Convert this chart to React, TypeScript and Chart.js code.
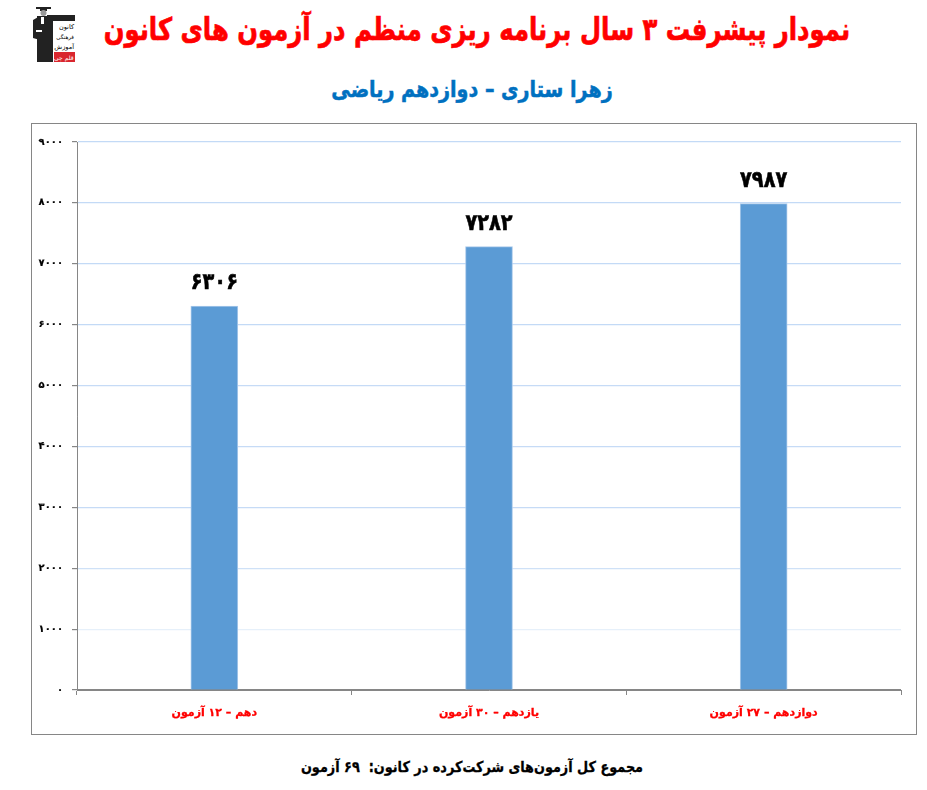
import { useEffect, useRef } from 'react';
import { Chart, registerables } from 'chart.js';

Chart.register(...registerables);

const PERSIAN_FONT = '"DejaVu Sans", sans-serif';

const pageTitle = 'نمودار پیشرفت ۳ سال برنامه ریزی منظم در آزمون های کانون';
const studentLine = 'زهرا ستاری – دوازدهم ریاضی';
const footerLine = 'مجموع کل آزمون‌های شرکت‌کرده در کانون:  ۶۹ آزمون';

const categories = ['دهم – ۱۲ آزمون', 'یازدهم – ۳۰ آزمون', 'دوازدهم – ۲۷ آزمون'];
const scores = [6306, 7282, 7987];
const gridColors = ['#868686', '#e6f0fa', '#cfe1f7', '#c6dbf6', '#c6dbf6', '#c6dbf6', '#c3daf6', '#c3daf6', '#c3daf6', '#c3daf6'];

const toPersian = (n: number | string) =>
    String(n).replace(/\d/g, (d) => '۰۱۲۳۴۵۶۷۸۹'[Number(d)]);

// draws the number above each bar
const valueLabels = {
    id: 'valueLabels',
    afterDatasetsDraw(chart: Chart) {
        const { ctx } = chart;
        const bars = chart.getDatasetMeta(0).data;
        ctx.save();
        ctx.fillStyle = '#000';
        ctx.strokeStyle = '#000';
        ctx.lineWidth = 0.6;
        ctx.textAlign = 'center';
        ctx.textBaseline = 'alphabetic';
        ctx.font = `bold 23px ${PERSIAN_FONT}`;
        bars.forEach((bar, i) => {
            ctx.save();
            ctx.translate(bar.x, bar.y - 17);
            ctx.scale(0.84, 1);
            ctx.fillText(toPersian(scores[i]), 0, 0);
            ctx.strokeText(toPersian(scores[i]), 0, 0);
            ctx.restore();
        });
        ctx.restore();
    },
};

const Logo = () => (
    <svg width="44" height="56" viewBox="0 0 44 56" style={{ position: 'absolute', left: 32, top: 6 }}>
        <rect x="4" y="1" width="15" height="2" fill="#222" />
        <rect x="8" y="3" width="7" height="2" fill="#222" />
        <circle cx="11.5" cy="7" r="3" fill="#999" />
        <polygon points="1,14 8,10 8,34 1,32" fill="#222" />
        <rect x="5" y="10" width="16" height="46" fill="#222" />
        <rect x="15" y="9" width="28" height="6" fill="#222" />
        <rect x="9" y="11" width="3" height="7" fill="#fff" />
        <rect x="4" y="24" width="6" height="2" fill="#fff" />
        <text x="42" y="23" textAnchor="end" fontSize="6.5" fontFamily={PERSIAN_FONT}>کانون</text>
        <text x="42" y="33" textAnchor="end" fontSize="5.5" fontFamily={PERSIAN_FONT}>فرهنگی</text>
        <text x="42" y="43" textAnchor="end" fontSize="6.5" fontFamily={PERSIAN_FONT}>آموزش</text>
        <rect x="22" y="46" width="21" height="10" fill="#d9262e" />
        <text x="41.5" y="54" textAnchor="end" fontSize="6" fill="#fff" fontFamily={PERSIAN_FONT}>قلم چی</text>
    </svg>
);

const centered = (top: number, center: number, extra: React.CSSProperties): React.CSSProperties => ({
    position: 'absolute',
    left: center - 600,
    width: 1200,
    top,
    textAlign: 'center',
    direction: 'rtl',
    fontFamily: PERSIAN_FONT,
    fontWeight: 'bold',
    whiteSpace: 'pre',
    ...extra,
});

const App = () => {
    const chartRef = useRef<HTMLCanvasElement | null>(null);

    useEffect(() => {
        if (!chartRef.current) return;
        const chart = new Chart(chartRef.current, {
            type: 'bar',
            data: {
                labels: categories,
                datasets: [{
                    data: scores,
                    backgroundColor: '#5B9BD5',
                    borderColor: '#a8c8ea',
                    borderWidth: 1,
                    borderSkipped: 'bottom',
                    barThickness: 47,
                }],
            },
            options: {
                animation: false,
                responsive: false,
                layout: { padding: { top: 18, right: 15, left: 0, bottom: 0 } },
                plugins: { legend: { display: false }, tooltip: { enabled: false } },
                scales: {
                    x: {
                        grid: { offset: true, drawOnChartArea: false, color: '#868686', tickLength: 5 },
                        border: { color: '#868686' },
                        ticks: {
                            color: '#ff0000',
                            padding: 12,
                            maxRotation: 0,
                            textStrokeColor: '#ff0000',
                            textStrokeWidth: 0.3,
                            font: { family: PERSIAN_FONT, weight: 'bold', size: 11 },
                        },
                        afterFit: (scale) => { scale.height = 44; },
                    },
                    y: {
                        min: 0,
                        max: 9000,
                        grid: {
                            color: (c) => gridColors[c.index] ?? '#c3daf6',
                            lineWidth: 1.2,
                            tickColor: '#868686',
                            tickLength: 5,
                        },
                        border: { color: '#868686' },
                        ticks: {
                            stepSize: 1000,
                            color: '#000',
                            padding: 9,
                            textStrokeColor: '#000',
                            textStrokeWidth: 0.2,
                            font: { family: PERSIAN_FONT, weight: 'bold', size: 10 },
                            callback: (v) => toPersian(v),
                        },
                        afterFit: (scale) => { scale.width = 45; },
                    },
                },
            },
            plugins: [valueLabels],
        });
        return () => chart.destroy();
    }, []);

    return (
        <div style={{ position: 'absolute', left: 0, top: 0, width: 927, height: 790, background: '#fff', overflow: 'hidden' }}>
            <Logo />
            <div style={centered(11, 477, { fontSize: 31, color: '#ff0000', transform: 'scaleX(0.784)', WebkitTextStroke: '0.7px #ff0000' })}>{pageTitle}</div>
            <div style={centered(76, 471.5, { fontSize: 23, color: '#0070c0', transform: 'scaleX(0.83)', WebkitTextStroke: '0.5px #0070c0' })}>{studentLine}</div>
            <div style={{ position: 'absolute', left: 31, top: 123, width: 884, height: 610, border: '1px solid #868686' }}>
                <canvas ref={chartRef} width={884} height={610} style={{ display: 'block', direction: 'rtl' }}></canvas>
            </div>
            <div style={centered(758, 472, { fontSize: 15, color: '#000', transform: 'scaleX(0.855)', WebkitTextStroke: '0.3px #000' })}>{footerLine}</div>
        </div>
    );
};

export default App;
